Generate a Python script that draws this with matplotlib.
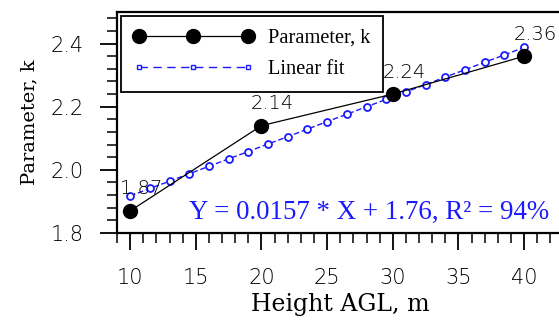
import numpy as np
import matplotlib.pyplot as plt
from matplotlib.lines import Line2D
from matplotlib.ticker import MultipleLocator

# measured parameter k by height
height = [10, 20, 30, 40]
k_vals = [1.87, 2.14, 2.24, 2.36]
k_labels = ["1.87", "2.14", "2.24", "2.36"]

# linear fit points
fit_x = [10, 11.5, 13, 14.5, 16, 17.5, 19, 20.5, 22, 23.5, 25,
         26.5, 28, 29.5, 31, 32.5, 34, 35.5, 37, 38.5, 40]
fit_y = [1.917, 1.941, 1.964, 1.988, 2.011, 2.035, 2.058, 2.082, 2.105, 2.129, 2.153,
         2.176, 2.200, 2.223, 2.247, 2.270, 2.294, 2.317, 2.341, 2.364, 2.388]

fit_text = "Y = 0.0157 * X + 1.76, R\u00b2 = 94%"

serif = "Liberation Serif"
slab = "DejaVu Serif"
blue = "#1a1aff"

fig = plt.figure(figsize=(5.59, 3.2), dpi=100)
ax = fig.add_axes([117 / 559, 87 / 320, 446.5 / 559, 221 / 320])

ax.plot(fit_x, fit_y, color=blue, linestyle=(0, (4, 2)), linewidth=1,
        marker="o", markersize=5, markerfacecolor="white", markeredgecolor=blue,
        markeredgewidth=1.3, zorder=2)
ax.plot(height, k_vals, color="black", linewidth=0.9, marker="o", markersize=10,
        zorder=3)

# value labels sit slightly right of each point
for x, y, s in zip(height, k_vals, k_labels):
    ax.annotate(s, (x, y), xytext=(-7.5, 9), textcoords="offset points",
                ha="left", va="bottom", fontsize=14, family="DejaVu Sans",
                fontweight="light", zorder=4)

ax.text(0.9675, 0.095, fit_text, transform=ax.transAxes, ha="right", va="center",
        color=blue, fontsize=19.4, family=serif)

ax.set_xlim(9, 43)
ax.set_ylim(1.8, 2.5)
ax.xaxis.set_major_locator(MultipleLocator(5))
ax.xaxis.set_minor_locator(MultipleLocator(1))
ax.yaxis.set_minor_locator(MultipleLocator(0.04))
ax.set_yticks([1.8, 2.0, 2.2, 2.4])
ax.set_yticklabels(["1.8", "2.0", "2.2", "2.4"])

ax.tick_params(which="major", direction="out", length=12, width=1.3,
               labelsize=15, pad=13)
ax.tick_params(which="minor", direction="out", length=7, width=1.1)
ax.tick_params(axis="y", which="major", pad=12)
for lab in ax.get_xticklabels() + ax.get_yticklabels():
    lab.set_fontweight("light")

for sp in ax.spines.values():
    sp.set_linewidth(1.6)

ax.set_xlabel("Height AGL, m", family=slab, fontsize=17, labelpad=3.5)
ax.set_ylabel("Parameter, k", family=slab, fontsize=14, labelpad=9)

handles = [
    Line2D([], [], color="black", linewidth=0.9, marker="o", markersize=10),
    Line2D([], [], color=blue, linewidth=1, linestyle=(0, (6, 4)), marker="s",
           markersize=3.5, markerfacecolor="white", markeredgecolor=blue),
]
leg = ax.legend(handles, ["Parameter, k", "Linear fit"], loc="upper left",
                bbox_to_anchor=(0.002, 0.995), prop={"family": serif, "size": 14.7},
                numpoints=3, handlelength=5.9, fancybox=False, edgecolor="black",
                framealpha=1, borderpad=0.6, labelspacing=0.6, handletextpad=0.7,
                borderaxespad=0.15)
leg.get_frame().set_linewidth(1.3)

fig.savefig("out.png", dpi=100)
